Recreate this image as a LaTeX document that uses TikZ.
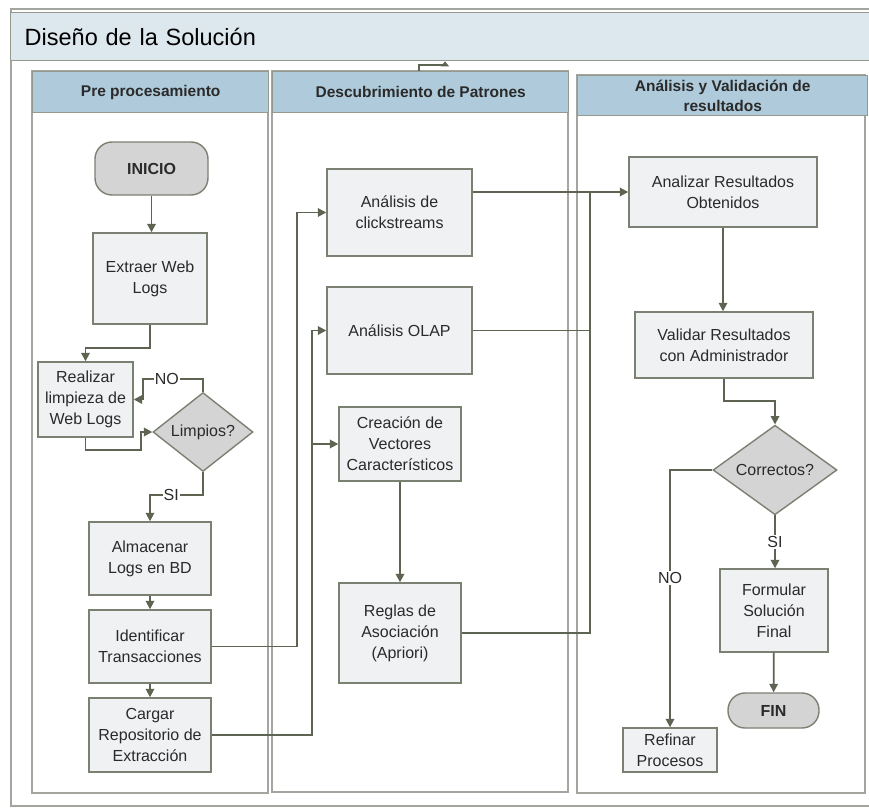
\documentclass[tikz,border=0pt]{standalone}
\usepackage{fontspec}
\setmainfont{Liberation Sans}
\usetikzlibrary{shapes.geometric,arrows.meta}

\definecolor{lineagris}{HTML}{5E6452}
\definecolor{bordecaja}{HTML}{7B8172}
\definecolor{rellenocaja}{HTML}{F0F1F3}
\definecolor{rellenogris}{HTML}{D4D4D4}
\definecolor{rellenotitulo}{HTML}{DCE7EE}
\definecolor{rellenocab}{HTML}{AFCBDB}
\definecolor{bordecarril}{HTML}{A3A69F}
\definecolor{texto}{HTML}{2A2A2A}

\begin{document}
\begin{tikzpicture}[x=1pt, y=-1pt,
	caja/.style={rectangle, draw=bordecaja, fill=rellenocaja, line width=1.4pt, align=center, text=texto, font=\fontsize{16}{21}\selectfont, inner sep=1pt},
	decision/.style={diamond, draw=bordecaja, fill=rellenogris, line width=1.4pt, text=texto, font=\fontsize{16}{21}\selectfont, inner sep=0pt},
	terminal/.style={rectangle, rounded corners=17pt, draw=bordecaja, fill=rellenogris, line width=1.4pt, text=texto, font=\bfseries\fontsize{16}{21}\selectfont},
	cabecera/.style={rectangle, draw=bordecaja!80, fill=rellenocab, line width=1.4pt, align=center, text=texto, font=\bfseries\fontsize{15.5}{20}\selectfont, anchor=north west},
	carril/.style={draw=bordecarril, line width=2pt},
	linea/.style={draw=lineagris, line width=1.8pt},
	flecha/.style={linea, -{Triangle[length=8.5pt,width=8.5pt]}},
	etiqueta/.style={fill=white, inner sep=1pt, text=texto, font=\fontsize{16}{21}\selectfont}]
	\useasboundingbox (0,0) rectangle (869,808);

	% marco y titulo
	\draw[draw=bordecarril, line width=2pt] (11,9) rectangle (890,806);
	\node (titulo)[rectangle, draw=bordecaja!80, fill=rellenotitulo, line width=1.4pt, anchor=north west, minimum width=880pt, minimum height=48pt, text width=852pt, inner xsep=14pt, align=left, text=black, font=\fontsize{23.5}{28}\selectfont] at (10,12){Diseño de la Solución};

	% carriles
	\draw[carril] (32,71) rectangle (268,793);
	\draw[carril] (272,71) rectangle (568,792);
	\draw[carril] (577,75) rectangle (865,793);
	\node (hdrPre)[cabecera, minimum width=236pt, minimum height=41pt] at (32,71){Pre procesamiento};
	\node (hdrDesc)[cabecera, minimum width=296pt, minimum height=41pt] at (272,71){Descubrimiento de Patrones};
	\node (hdrAnal)[cabecera, minimum width=290pt, minimum height=40pt] at (577,75){Análisis y Validación de\\resultados};

	% pre procesamiento
	\node (inicio)[terminal, minimum width=113pt, minimum height=53pt] at (151.5,168.5){INICIO};
	\node (extraer)[caja, minimum width=114pt, minimum height=91pt] at (150,278.5){Extraer Web\\Logs};
	\node (limpieza)[caja, minimum width=95pt, minimum height=75pt] at (85.5,399.5){Realizar\\limpieza de\\Web Logs};
	\node (limpios)[decision, minimum width=100pt, minimum height=70pt] at (203,432){Limpios?};
	\node (almacenar)[caja, minimum width=122pt, minimum height=73pt] at (150,558.5){Almacenar\\Logs en BD};
	\node (identificar)[caja, minimum width=122pt, minimum height=73pt] at (150,646.5){Identificar\\Transacciones};
	\node (cargar)[caja, minimum width=122pt, minimum height=74pt] at (150,735){Cargar\\Repositorio de\\Extracción};

	% descubrimiento de patrones
	\node (clicks)[caja, minimum width=145pt, minimum height=87pt] at (399.5,212.5){Análisis de\\clickstreams};
	\node (olap)[caja, minimum width=145pt, minimum height=87pt] at (399.5,330.5){Análisis OLAP};
	\node (vectores)[caja, minimum width=122pt, minimum height=74pt] at (400,444){Creación de\\Vectores\\Característicos};
	\node (reglas)[caja, minimum width=122pt, minimum height=100pt] at (400,633){Reglas de\\Asociación\\(Apriori)};

	% analisis y validacion
	\node (analizar)[caja, minimum width=188pt, minimum height=70pt] at (723,192){Analizar Resultados\\Obtenidos};
	\node (validar)[caja, minimum width=178pt, minimum height=66pt] at (724,345){Validar Resultados\\con Administrador};
	\node (correctos)[decision, minimum width=124pt, minimum height=71pt] at (775,470){Correctos?};
	\node (formular)[caja, minimum width=108pt, minimum height=83pt] at (774,610.5){Formular\\Solución\\Final};
	\node (fin)[terminal, minimum width=91pt, minimum height=35pt] at (773.5,710.5){FIN};
	\node (refinar)[caja, minimum width=94pt, minimum height=44pt] at (670,750){Refinar\\Procesos};

	\coordinate (union) at ([xshift=-38pt]analizar.west);

	\draw[linea, -{Triangle[length=5pt,width=8pt]}] ([xshift=147pt]hdrDesc.north west) -- ++(0,-6) -| ([xshift=173pt]hdrDesc.north west |- titulo.south);

	\draw[flecha] (inicio) -- (inicio.south |- extraer.north);
	\draw[flecha] (extraer.south) -- ++(0,23) -| (limpieza.north);
	\draw[flecha] (limpieza.south) -- ++(0,12) -| ([xshift=-11pt]limpios.west) -- (limpios.west);
	\draw[flecha] (limpios.north) -- ++(0,-13) -| node[etiqueta, pos=0.3]{NO} ([xshift=9pt]limpieza.east) -- (limpieza.east);
	\draw[flecha] (limpios.south) -- ++(0,23) -| node[etiqueta, pos=0.3]{SI} (almacenar.north);
	\draw[flecha] (almacenar) -- (identificar);
	\draw[flecha] (identificar) -- (cargar);
	\draw[flecha] (identificar.east) -| ([xshift=-29pt]clicks.west) -- (clicks.west);
	\draw[flecha] (cargar.east) -| ([xshift=-14pt]olap.west) -- (olap.west);
	\draw[flecha] ([xshift=-14pt]olap.west |- vectores.west) -- (vectores.west);
	\draw[flecha] (vectores) -- (reglas);

	\draw[flecha] (clicks.east |- analizar.west) -- (analizar.west);
	\draw[linea] (olap.east) -| (union);
	\draw[linea] (reglas.east) -| (union);
	\draw[flecha] (analizar.south) -- (analizar.south |- validar.north);
	\draw[flecha] (validar.south) -- ++(0,22) -| (correctos.north);
	\draw[flecha] (correctos.south) -- node[etiqueta]{SI} (correctos.south |- formular.north);
	\draw[flecha] (formular) -- (fin);
	\draw[flecha] (correctos.west) -| node[etiqueta, pos=0.71]{NO} (refinar.north);
\end{tikzpicture}
\end{document}
